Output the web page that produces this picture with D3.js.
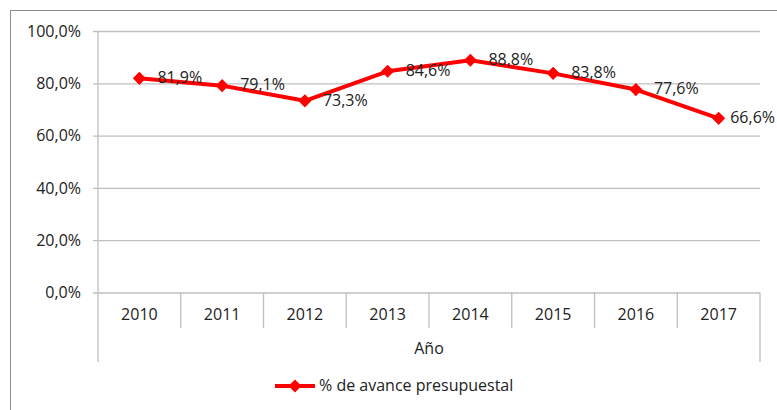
<!DOCTYPE html>
<html>
<head>
<meta charset="utf-8">
<script src="https://cdn.jsdelivr.net/npm/d3@7"></script>
<style>
  body { margin: 0; background: #fff; }
  svg text { font-family: "Open Sans", Lato, sans-serif; fill: #222; }
</style>
</head>
<body>
<div id="chart"></div>
<script>
const years = ['2010', '2011', '2012', '2013', '2014', '2015', '2016', '2017'];
const avance = [81.9, 79.1, 73.3, 84.6, 88.8, 83.8, 77.6, 66.6];
const yTicks = [0, 20, 40, 60, 80, 100];
const seriesName = '% de avance presupuestal';
const axisTitle = 'Año';

const width = 777, height = 410;
const plot = {left: 98, right: 760, top: 31, bottom: 292.5};
const fs = 16;

const fmt = (v) => d3.format('.1f')(v).replace('.', ',') + '%';

const svg = d3.select('#chart')
    .append('svg')
    .attr('width', width)
    .attr('height', height);

// chart border (cut by the window on right/bottom)
svg.append('rect')
    .attr('x', 10.5).attr('y', 10.5)
    .attr('width', 800).attr('height', 500)
    .attr('fill', 'none')
    .attr('stroke', '#8c8c8c');

const x = d3.scaleBand()
    .domain(years)
    .range([plot.left, plot.right]);

const y = d3.scaleLinear()
    .domain([0, 100])
    .range([plot.bottom, plot.top]);

// gridlines + y labels
const yAxis = d3.axisLeft(y)
    .tickValues(yTicks)
    .tickSize(-(plot.right - plot.left))
    .tickPadding(0)
    .tickFormat(fmt);

const gy = svg.append('g')
    .attr('transform', `translate(${plot.left},0)`)
    .call(yAxis);
gy.select('.domain').remove();
gy.selectAll('.tick line')
    .attr('x1', -5)
    .attr('stroke', '#bfbfbf')
    .attr('stroke-width', 1.3);
gy.selectAll('.tick text')
    .attr('x', -17)
    .attr('font-size', fs);

// vertical axis line
svg.append('line')
    .attr('x1', plot.left).attr('x2', plot.left)
    .attr('y1', plot.top).attr('y2', 362)
    .attr('stroke', '#bfbfbf').attr('stroke-width', 1.3);
svg.append('line')
    .attr('x1', plot.right).attr('x2', plot.right)
    .attr('y1', plot.bottom).attr('y2', 362)
    .attr('stroke', '#bfbfbf').attr('stroke-width', 1.3);

// category separators
svg.append('g')
    .selectAll('line')
    .data(years.slice(1))
    .join('line')
    .attr('x1', (d) => x(d)).attr('x2', (d) => x(d))
    .attr('y1', plot.bottom).attr('y2', 328)
    .attr('stroke', '#bfbfbf').attr('stroke-width', 1.3);

svg.append('g')
    .selectAll('text')
    .data(years)
    .join('text')
    .attr('x', (d) => x(d) + x.bandwidth() / 2)
    .attr('y', 316)
    .attr('text-anchor', 'middle')
    .attr('dominant-baseline', 'middle')
    .attr('font-size', fs)
    .text((d) => d);

svg.append('text')
    .attr('x', (plot.left + plot.right) / 2)
    .attr('y', 350)
    .attr('text-anchor', 'middle')
    .attr('dominant-baseline', 'middle')
    .attr('font-size', fs)
    .text(axisTitle);

// line series
const pts = years.map((d, i) => ({year: d, v: avance[i]}));

const lineFunc = d3.line()
    .x((d) => x(d.year) + x.bandwidth() / 2)
    .y((d) => y(d.v))
    .curve(d3.curveLinear);

svg.append('path')
    .attr('d', lineFunc(pts))
    .attr('stroke', '#ff0000')
    .attr('stroke-width', 4)
    .attr('stroke-linejoin', 'round')
    .attr('fill', 'none');

const diamond = d3.symbol().type(d3.symbolDiamond2).size(110);

svg.append('g')
    .selectAll('path')
    .data(pts)
    .join('path')
    .attr('d', diamond)
    .attr('transform', (d) => `translate(${x(d.year) + x.bandwidth() / 2},${y(d.v)})`)
    .attr('fill', '#ff0000');

// data labels to the right; pulled in if they would run off the edge
svg.append('g')
    .selectAll('text')
    .data(pts)
    .join('text')
    .attr('x', (d) => x(d.year) + x.bandwidth() / 2 + 18)
    .attr('y', (d) => y(d.v) + 0.5)
    .attr('dominant-baseline', 'middle')
    .attr('font-size', fs)
    .text((d) => fmt(d.v))
    .each(function() {
        const t = d3.select(this);
        const w = this.getComputedTextLength();
        const x0 = +t.attr('x');
        if (x0 + w > width - 2) t.attr('x', width - 2 - w);
    });

// legend
const lg = svg.append('g');
lg.append('line')
    .attr('x1', 275).attr('x2', 315)
    .attr('y1', 386).attr('y2', 386)
    .attr('stroke', '#ff0000').attr('stroke-width', 4);
lg.append('path')
    .attr('d', diamond)
    .attr('transform', 'translate(295,386)')
    .attr('fill', '#ff0000');
lg.append('text')
    .attr('x', 319).attr('y', 386.5)
    .attr('dominant-baseline', 'middle')
    .attr('font-size', fs)
    .text(seriesName);
</script>
</body>
</html>
